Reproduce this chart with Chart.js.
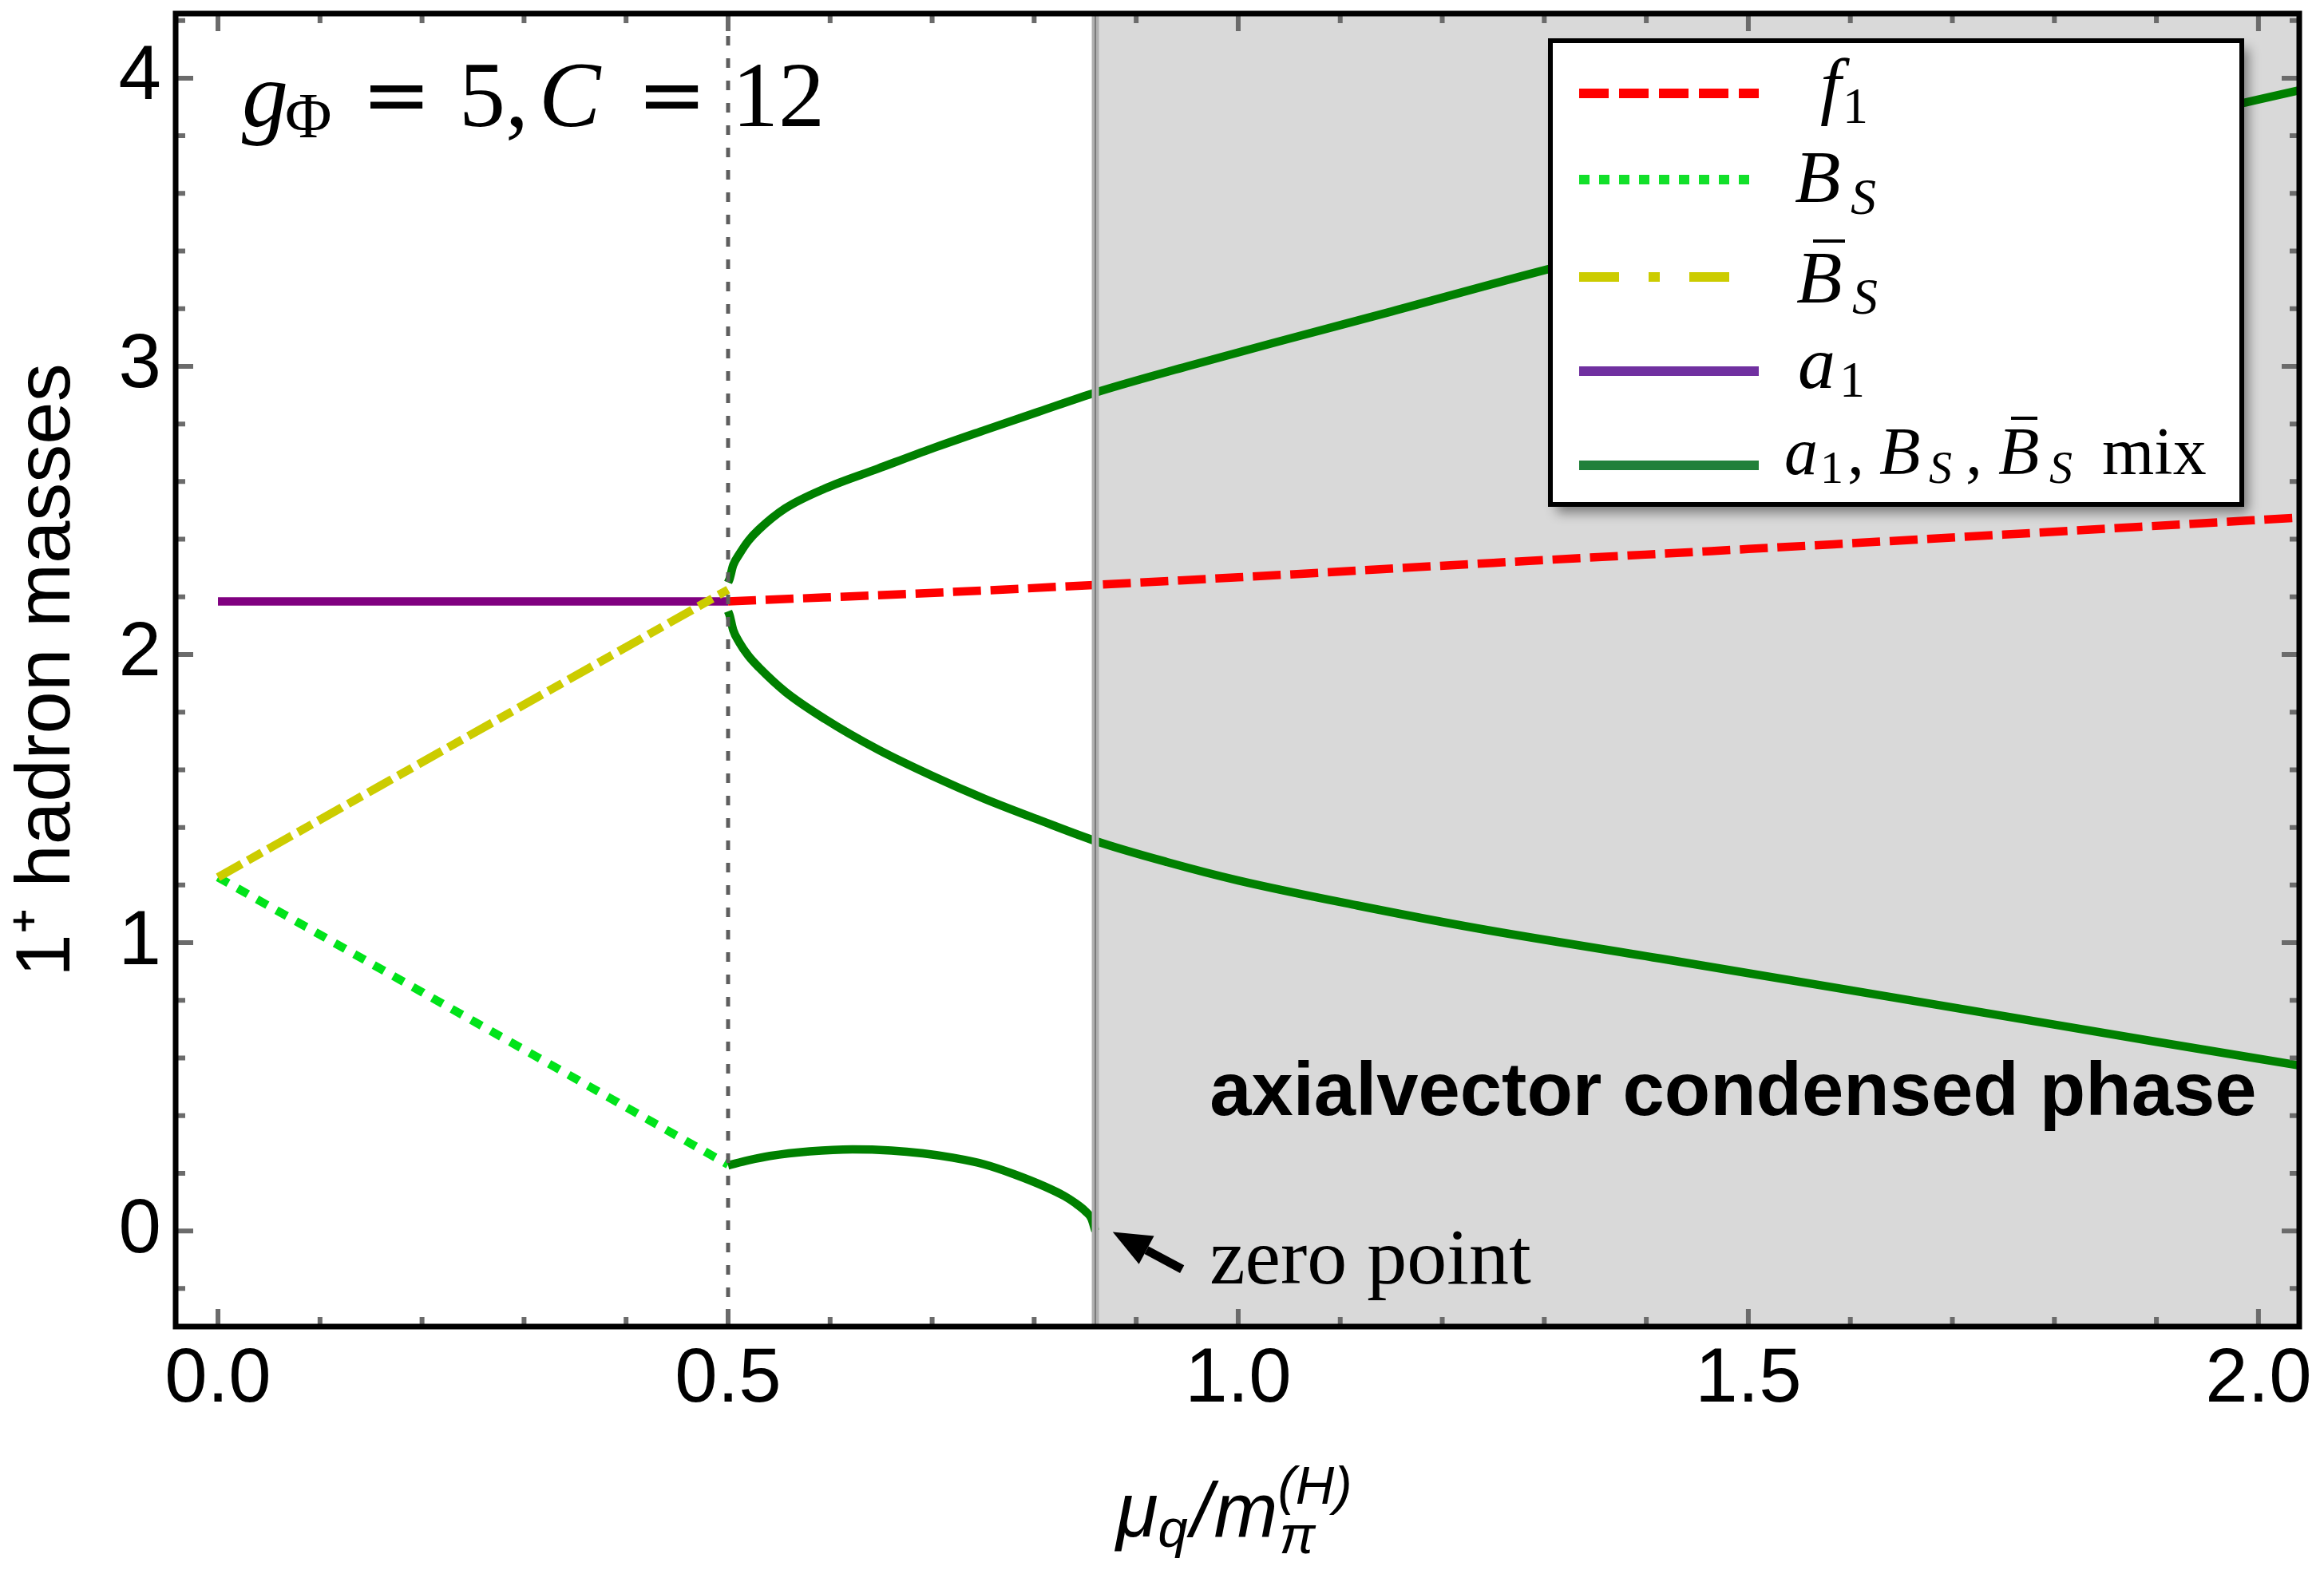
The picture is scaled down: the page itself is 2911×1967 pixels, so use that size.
<!DOCTYPE html>
<html lang="en">
  <head>
    <meta charset="UTF-8" />
    <meta name="viewport" content="width=device-width, initial-scale=1.0" />
    <title>1+ hadron masses</title>
    <script src="https://cdn.jsdelivr.net/npm/chart.js"></script>
    <style>
      html, body { margin: 0; padding: 0; background: #fff; }
      canvas { display: block; }
    </style>
  </head>
  <body>
    <canvas id="massChart" width="2911" height="1967"></canvas>

    <script>
      // axis ranges / tick values
      const xRange = [-0.0415, 2.04];
      const yRange = [-0.332, 4.224];
      const xMajorTicks = [0, 0.5, 1.0, 1.5, 2.0];
      const yMajorTicks = [0, 1, 2, 3, 4];

      // vertical markers
      const phaseBoundary = 0.5; // dotted line
      const zeroPoint = 0.86; // condensed phase starts here

      // a1 (purple)
      const a1X = [0, 0.5];
      const a1Y = [2.184, 2.184];

      // B_S (green dotted)
      const bsX = [0, 0.5];
      const bsY = [1.227, 0.23];

      // B_S bar (yellow dot-dashed)
      const bsBarX = [0, 0.5];
      const bsBarY = [1.227, 2.225];

      // f1 (red dashed)
      const f1X = [0.5, 0.75, 1.0, 1.25, 1.5, 1.75, 2.04];
      const f1Y = [2.184, 2.222, 2.268, 2.318, 2.366, 2.416, 2.475];

      // a1, B_S, B_S bar mix (dark green) - three branches
      const mixUpperX = [0.5, 0.5015, 0.505, 0.511, 0.52, 0.53, 0.556, 0.595, 0.647, 0.7, 0.751, 0.804, 0.861, 0.95, 1.048, 1.15, 1.305, 1.45, 1.6, 1.75, 1.9, 2.04];
      const mixUpperY = [2.25, 2.263, 2.31, 2.348, 2.395, 2.433, 2.507, 2.576, 2.645, 2.715, 2.778, 2.842, 2.91, 3.0, 3.094, 3.19, 3.338, 3.464, 3.59, 3.718, 3.844, 3.958];
      const mixLowerX = [0.5, 0.5015, 0.505, 0.511, 0.52, 0.53, 0.556, 0.595, 0.647, 0.7, 0.751, 0.804, 0.861, 0.93, 1.0, 1.117, 1.234, 1.419, 1.6, 1.721, 1.9, 2.04];
      const mixLowerY = [2.15, 2.136, 2.085, 2.042, 1.995, 1.956, 1.871, 1.776, 1.67, 1.579, 1.5, 1.427, 1.352, 1.28, 1.216, 1.129, 1.05, 0.942, 0.835, 0.763, 0.656, 0.574];
      const mixSmallX = [0.5, 0.52, 0.541, 0.58, 0.622, 0.66, 0.691, 0.72, 0.751, 0.78, 0.811, 0.83, 0.84, 0.85, 0.856, 0.86];
      const mixSmallY = [0.227, 0.245, 0.26, 0.276, 0.283, 0.279, 0.269, 0.254, 0.231, 0.197, 0.153, 0.12, 0.097, 0.069, 0.044, 0.0];

      const serif = "'Liberation Serif', 'Times New Roman', serif";
      const sans = "'Liberation Sans', Arial, Helvetica, sans-serif";

      const makePoints = (xs, ys) => xs.map((x, i) => ({ x: x, y: ys[i] }));

      function lineSet(label, xs, ys, color, dash) {
        return {
          label: label,
          data: makePoints(xs, ys),
          borderColor: color,
          borderWidth: 10.5,
          borderDash: dash || [],
          borderCapStyle: "butt",
          pointRadius: 0,
          fill: false,
          cubicInterpolationMode: "monotone",
        };
      }

      // draw a run of text pieces: [text, font, gap, dy]
      function drawRun(ctx, x, y, pieces) {
        let cx = x;
        pieces.forEach(([t, font, gap, dy]) => {
          ctx.font = font;
          cx += gap || 0;
          ctx.fillText(t, cx, y + (dy || 0));
          cx += ctx.measureText(t).width;
        });
        return cx;
      }

      function drawArrow(ctx, x0, y0, x1, y1) {
        const ang = Math.atan2(y1 - y0, x1 - x0);
        const head = 48, half = 20;
        const bx = x1 - head * Math.cos(ang);
        const by = y1 - head * Math.sin(ang);
        ctx.strokeStyle = "#000";
        ctx.fillStyle = "#000";
        ctx.lineWidth = 11;
        ctx.beginPath();
        ctx.moveTo(x0, y0);
        ctx.lineTo(bx, by);
        ctx.stroke();
        ctx.beginPath();
        ctx.moveTo(x1, y1);
        ctx.lineTo(bx + half * Math.sin(ang), by - half * Math.cos(ang));
        ctx.lineTo(bx - half * Math.sin(ang), by + half * Math.cos(ang));
        ctx.closePath();
        ctx.fill();
      }

      // shaded phase region behind the curves
      const shadePlugin = {
        id: "shade",
        beforeDatasetsDraw(chart) {
          const { ctx, chartArea: a, scales } = chart;
          const px = scales.x.getPixelForValue(zeroPoint);
          ctx.save();
          ctx.fillStyle = "#d9d9d9";
          ctx.fillRect(px, a.top, a.right - px, a.bottom - a.top);
          ctx.restore();
        },
      };

      // frame, ticks, markers, texts, legend
      const decorPlugin = {
        id: "decor",
        afterDraw(chart) {
          const { ctx, chartArea: a, scales } = chart;
          const xs = scales.x, ys = scales.y;
          ctx.save();

          // vertical marker lines
          const pz = xs.getPixelForValue(zeroPoint);
          ctx.strokeStyle = "#b0b0b0";
          ctx.lineWidth = 9;
          ctx.beginPath(); ctx.moveTo(pz, a.top); ctx.lineTo(pz, a.bottom); ctx.stroke();
          ctx.strokeStyle = "#7a7a7a";
          ctx.lineWidth = 2;
          ctx.beginPath(); ctx.moveTo(pz, a.top); ctx.lineTo(pz, a.bottom); ctx.stroke();

          const pb = xs.getPixelForValue(phaseBoundary);
          ctx.strokeStyle = "#5e5e5e";
          ctx.lineWidth = 5;
          ctx.setLineDash([12, 16]);
          ctx.beginPath(); ctx.moveTo(pb, a.top); ctx.lineTo(pb, a.bottom); ctx.stroke();
          ctx.setLineDash([]);

          // frame ticks (inside, all four sides)
          ctx.strokeStyle = "#6b6b6b";
          ctx.lineWidth = 6;
          for (let i = -1; i <= 21; i++) {
            const v = i / 10;
            if (v < xRange[0] || v > xRange[1]) continue;
            const len = i % 5 === 0 ? 22 : 12;
            const p = xs.getPixelForValue(v);
            ctx.beginPath();
            ctx.moveTo(p, a.bottom); ctx.lineTo(p, a.bottom - len);
            ctx.moveTo(p, a.top); ctx.lineTo(p, a.top + len);
            ctx.stroke();
          }
          for (let i = -2; i <= 22; i++) {
            const v = i / 5;
            if (v < yRange[0] || v > yRange[1]) continue;
            const len = i % 5 === 0 ? 22 : 12;
            const p = ys.getPixelForValue(v);
            ctx.beginPath();
            ctx.moveTo(a.left, p); ctx.lineTo(a.left + len, p);
            ctx.moveTo(a.right, p); ctx.lineTo(a.right - len, p);
            ctx.stroke();
          }

          // frame
          ctx.strokeStyle = "#000";
          ctx.lineWidth = 7;
          ctx.strokeRect(a.left, a.top, a.right - a.left, a.bottom - a.top);

          // parameter label
          ctx.fillStyle = "#000";
          ctx.textBaseline = "alphabetic";
          ctx.textAlign = "left";
          const tx = xs.getPixelForValue(0.0235), ty = ys.getPixelForValue(3.834);
          const it116 = "italic 116px " + serif, up116 = "116px " + serif;
          ctx.font = it116; ctx.fillText("g", tx, ty);
          ctx.font = "80px " + serif; ctx.fillText("\u03A6", tx + 54, ty + 14);
          ctx.font = "104px 'DejaVu Sans', sans-serif"; ctx.fillText("=", tx + 150, ty - 4);
          ctx.font = up116; ctx.fillText("5,", tx + 272, ty);
          ctx.font = it116; ctx.fillText("C", tx + 372, ty);
          ctx.font = "104px 'DejaVu Sans', sans-serif"; ctx.fillText("=", tx + 495, ty - 4);
          ctx.font = up116; ctx.fillText("12", tx + 614, ty);

          // phase annotation
          ctx.font = "bold 94px " + sans;
          ctx.fillText("axialvector condensed phase", xs.getPixelForValue(0.972), ys.getPixelForValue(0.402));

          // zero point arrow + text
          drawArrow(ctx, xs.getPixelForValue(0.945), ys.getPixelForValue(-0.133), xs.getPixelForValue(0.877), ys.getPixelForValue(-0.004));
          ctx.font = "100px " + serif;
          ctx.fillText("zero point", xs.getPixelForValue(0.972), ys.getPixelForValue(-0.183));

          // x axis title: mu_q / m_pi^(H)
          const cx = (a.left + a.right) / 2;
          const it96 = "italic 96px " + sans, it67 = "italic 67px " + sans;
          const endM = drawRun(ctx, cx - 152, 1925, [
            ["\u03BC", it96], ["q", it67, 0, 13], ["/", it96, 4], ["m", it96, 2],
          ]);
          ctx.font = it67;
          ctx.fillText("\u03C0", endM + 2, 1946);
          ctx.fillText("(H)", endM, 1884);

          // legend
          const L = { left: 1942, top: 51, right: 2808, bottom: 632 };
          ctx.save();
          ctx.shadowColor = "rgba(0,0,0,0.45)";
          ctx.shadowBlur = 14;
          ctx.shadowOffsetX = 8;
          ctx.shadowOffsetY = 10;
          ctx.fillStyle = "#fff";
          ctx.fillRect(L.left, L.top, L.right - L.left, L.bottom - L.top);
          ctx.restore();
          ctx.strokeStyle = "#000";
          ctx.lineWidth = 6;
          ctx.strokeRect(L.left, L.top, L.right - L.left, L.bottom - L.top);

          const samples = [
            [117, "#ff0000", [37, 13]],
            [225, "#12e02a", [13, 12]],
            [347, "#cccc00", [50, 37, 14, 37]],
            [465, "#7030a0", []],
            [583, "#21803a", []],
          ];
          ctx.lineWidth = 12;
          ctx.lineCap = "butt";
          samples.forEach(([yy, col, dash]) => {
            ctx.strokeStyle = col;
            ctx.setLineDash(dash);
            ctx.beginPath(); ctx.moveTo(1978, yy); ctx.lineTo(2203, yy); ctx.stroke();
          });
          ctx.setLineDash([]);

          ctx.fillStyle = "#000";
          const it94 = "italic 94px " + serif, up64 = "64px " + serif, it64 = "italic 64px " + serif;
          ctx.font = it94; ctx.fillText("f", 2280, 138);
          ctx.font = up64; ctx.fillText("1", 2308, 154);
          ctx.font = it94; ctx.fillText("B", 2248, 253);
          ctx.font = it64; ctx.fillText("S", 2318, 268);
          ctx.font = it94; ctx.fillText("B", 2250, 379);
          ctx.fillRect(2271, 300, 40, 4);
          ctx.font = it64; ctx.fillText("S", 2320, 393);
          ctx.font = it94; ctx.fillText("a", 2252, 486);
          ctx.font = up64; ctx.fillText("1", 2304, 497);

          const it84 = "italic 84px " + serif, up84 = "84px " + serif, it58 = "italic 58px " + serif, up58 = "58px " + serif;
          ctx.font = it84; ctx.fillText("a", 2235, 594);
          ctx.font = up58; ctx.fillText("1", 2280, 605);
          ctx.font = up84; ctx.fillText(",", 2314, 594);
          ctx.font = it84; ctx.fillText("B", 2354, 594);
          ctx.font = it58; ctx.fillText("S", 2416, 605);
          ctx.font = up84; ctx.fillText(",", 2462, 594);
          ctx.font = it84; ctx.fillText("B", 2503, 594);
          ctx.fillRect(2519, 522, 33, 4);
          ctx.font = it58; ctx.fillText("S", 2567, 605);
          ctx.font = up84; ctx.fillText("mix", 2633, 594);

          ctx.restore();
        },
      };

      const ctx = document.getElementById("massChart").getContext("2d");
      new Chart(ctx, {
        type: "line",
        data: {
          datasets: [
            lineSet("mix", mixUpperX, mixUpperY, "#008000"),
            lineSet("mix", mixLowerX, mixLowerY, "#008000"),
            lineSet("mix", mixSmallX, mixSmallY, "#008000"),
            lineSet("B_S bar", bsBarX, bsBarY, "#cccc00", [34, 9, 20, 9]),
            lineSet("B_S", bsX, bsY, "#00e31a", [15, 13]),
            lineSet("f1", f1X, f1Y, "#ff0000", [35, 12]),
            lineSet("a1", a1X, a1Y, "#800080"),
          ],
        },
        options: {
          responsive: false,
          devicePixelRatio: 1,
          animation: false,
          layout: { padding: { left: 0, top: 17, right: 31, bottom: 0 } },
          plugins: {
            legend: { display: false },
            tooltip: { enabled: false },
          },
          scales: {
            x: {
              type: "linear",
              min: xRange[0],
              max: xRange[1],
              grid: { display: false, drawTicks: false },
              border: { display: false },
              afterBuildTicks: (s) => { s.ticks = xMajorTicks.map((v) => ({ value: v })); },
              afterFit: (s) => {
                s.height = 305;
                s.paddingLeft = 0;
                s.paddingRight = 0;
              },
              ticks: {
                padding: 10,
                color: "#000",
                maxRotation: 0,
                autoSkip: false,
                font: { family: sans, size: 96 },
                callback: (v) => Number(v).toFixed(1),
              },
            },
            y: {
              type: "linear",
              min: yRange[0],
              max: yRange[1],
              grid: { display: false, drawTicks: false },
              border: { display: false },
              afterBuildTicks: (s) => { s.ticks = yMajorTicks.map((v) => ({ value: v })); },
              afterFit: (s) => {
                s.width = 220;
                s.paddingTop = 0;
                s.paddingBottom = 0;
              },
              ticks: {
                padding: 18,
                color: "#000",
                font: { family: sans, size: 96 },
                callback: (v) => String(v),
              },
              title: {
                display: true,
                text: "1\u207A hadron masses",
                color: "#000",
                font: { family: sans, size: 96, lineHeight: 1.2 },
                padding: { top: 3, bottom: 0 },
              },
            },
          },
        },
        plugins: [shadePlugin, decorPlugin],
      });
    </script>
  </body>
</html>
